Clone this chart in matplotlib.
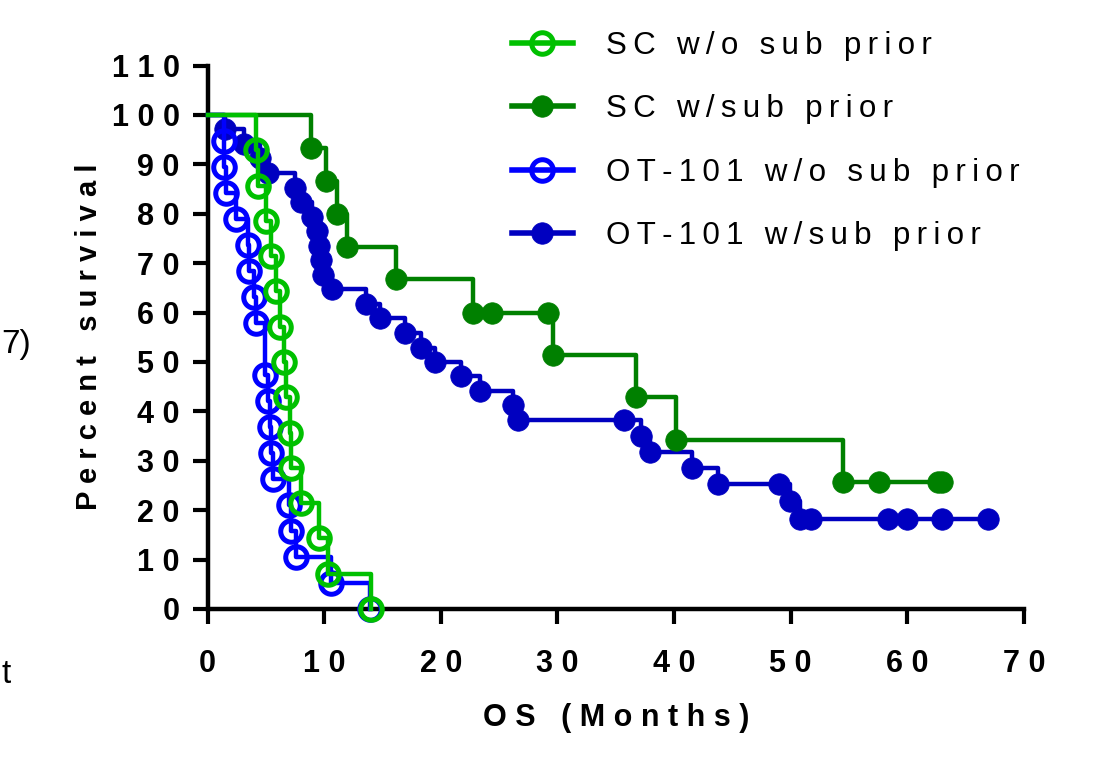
import matplotlib
matplotlib.use("Agg")
import matplotlib.pyplot as plt

# Kaplan-Meier points (time in months, percent survival)
sc_wo_t = [4.2, 4.3, 5.0, 5.45, 5.9, 6.2, 6.6, 6.7, 7.1, 7.15, 8.0, 9.6, 10.3, 14.0]
sc_wo_s = [92.9, 85.7, 78.6, 71.4, 64.3, 57.1, 50.0, 42.9, 35.7, 28.6, 21.4, 14.3, 7.1, 0.0]

sc_w_t = [8.9, 10.2, 11.1, 12.0, 16.2, 22.8, 24.4, 29.2, 29.6, 36.7, 40.2, 54.5, 57.6, 62.6, 63.0]
sc_w_s = [93.3, 86.7, 80.0, 73.3, 66.7, 60.0, 60.0, 60.0, 51.4, 42.9, 34.3, 25.7, 25.7, 25.7, 25.7]

ot_wo_t = [1.4, 1.45, 1.6, 2.46, 3.45, 3.6, 4.0, 4.2, 4.9, 5.2, 5.4, 5.45, 5.6, 7.0, 7.15, 7.6, 10.6, 13.9]
ot_wo_s = [94.7, 89.5, 84.2, 78.9, 73.7, 68.4, 63.2, 57.9, 47.4, 42.1, 36.8, 31.6, 26.3, 21.1, 15.8, 10.5, 5.3, 0.0]

ot_w_t = [1.5, 3.1, 4.5, 5.2, 7.5, 8.0, 9.0, 9.4, 9.6, 9.75, 9.9, 10.7, 13.6, 14.8, 16.9, 18.3,
          19.5, 21.7, 23.4, 26.2, 26.6, 35.7, 37.2, 37.9, 41.5, 43.8, 49.0, 49.9, 50.8, 51.7,
          58.3, 60.0, 63.0, 66.9]
ot_w_s = [97.1, 94.1, 91.2, 88.2, 85.3, 82.4, 79.4, 76.5, 73.5, 70.6, 67.6, 64.7, 61.8, 58.8,
          55.9, 52.9, 50.0, 47.1, 44.1, 41.2, 38.2, 38.2, 35.0, 31.8, 28.6, 25.4, 25.4, 21.8,
          18.2, 18.2, 18.2, 18.2, 18.2, 18.2]

labels = ["SC w/o sub prior", "SC w/sub prior", "OT-101 w/o sub prior", "OT-101 w/sub prior"]
xticks = [0, 10, 20, 30, 40, 50, 60, 70]
yticks = [0, 10, 20, 30, 40, 50, 60, 70, 80, 90, 100, 110]

plt.rcParams['font.family'] = ['Liberation Sans', 'DejaVu Sans']


def spaced(s, sep=" "):
    # fake letter spacing like the Prism export
    return sep.join(s)


fig = plt.figure(figsize=(10.93, 7.64), dpi=100)
ax = fig.add_axes([207.5 / 1093, 1 - 609 / 764, (1024 - 207.5) / 1093, (609 - 65.5) / 764])

series = [
    (sc_wo_t, sc_wo_s, "#00c000", True, 5),
    (sc_w_t, sc_w_s, "#008000", False, 3),
    (ot_wo_t, ot_wo_s, "#0000ff", True, 4),
    (ot_w_t, ot_w_s, "#0000c0", False, 2),
]
handles = []
for (t, s, col, hollow, z), lab in zip(series, labels):
    ax.plot([0] + t, [100] + s, drawstyle="steps-post", color=col, lw=3.2, zorder=z, clip_on=False)
    if hollow:
        h, = ax.plot(t, s, "o", ms=15.5, mfc="none", mec=col, mew=3.6, color=col,
                     zorder=z, clip_on=False)
    else:
        h, = ax.plot(t, s, "o", ms=15.5, mfc=col, mec=col, mew=0.5, color=col,
                     zorder=z, clip_on=False)
    hl, = ax.plot([], [], "-o", color=col, lw=4, ms=h.get_markersize(),
                  mfc=h.get_markerfacecolor(), mec=col, mew=h.get_markeredgewidth())
    handles.append(hl)

ax.set_xlim(0, 70)
ax.set_ylim(0, 110)
ax.set_xticks(xticks)
ax.set_yticks(yticks)
ax.set_xticklabels([spaced(str(v)) for v in xticks], fontweight="bold", fontsize=22)
ax.set_yticklabels([spaced(str(v)) for v in yticks], fontweight="bold", fontsize=22)
ax.tick_params(direction="out", length=11, width=3)
ax.tick_params(axis="x", pad=18)
ax.tick_params(axis="y", pad=9)
for side in ["top", "right"]:
    ax.spines[side].set_visible(False)
for side in ["left", "bottom"]:
    ax.spines[side].set_linewidth(3.2)

ax.set_xlabel(spaced("OS (Months)"), fontweight="bold", fontsize=22, labelpad=17)
ax.set_ylabel(spaced("Percent survival"), fontweight="bold", fontsize=21, labelpad=6)

fig.legend(handles, [spaced(l, "\u2009") for l in labels], loc="upper left",
           bbox_to_anchor=(512 / 1093, 1 - 31 / 764), frameon=False, fontsize=22.6,
           handlelength=1.93, handletextpad=1.07, labelspacing=1.06,
           borderpad=0, borderaxespad=0, numpoints=1)

# text of the neighbouring panel, trimmed at the left edge
fig.text(1 / 1093, 1 - 345 / 764, "7)", ha="left", va="center", fontsize=24)
fig.text(1 / 1093, 1 - 683 / 764, "t", ha="left", va="baseline", fontsize=24)

fig.savefig("out.png", dpi=100)
